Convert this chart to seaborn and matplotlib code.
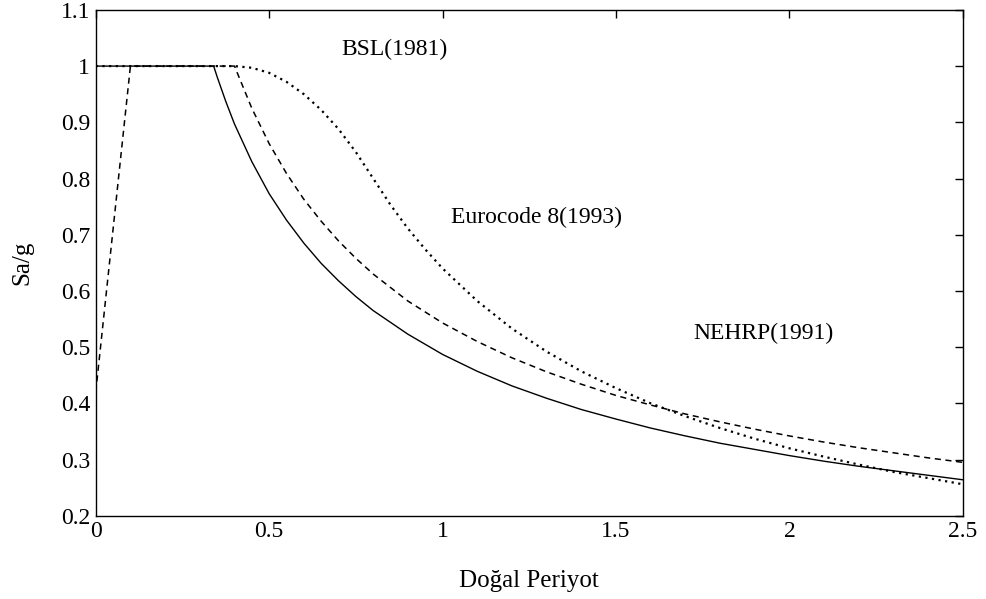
import matplotlib
matplotlib.use("Agg")
import matplotlib.pyplot as plt
import seaborn as sns
import pandas as pd

# ---- data ----
nehrp_T = [0.0, 0.34, 0.35, 0.375, 0.4, 0.45, 0.5, 0.55, 0.6, 0.65, 0.7, 0.75, 0.8, 0.9,
           1.0, 1.1, 1.2, 1.3, 1.4, 1.5, 1.6, 1.7, 1.8, 1.9, 2.0, 2.1, 2.2, 2.3, 2.4, 2.5]
nehrp_S = [1.0, 1.0, 0.981, 0.937, 0.897, 0.830, 0.773, 0.726, 0.685, 0.649, 0.618, 0.590, 0.565, 0.523,
           0.487, 0.457, 0.431, 0.409, 0.389, 0.372, 0.356, 0.342, 0.329, 0.318, 0.307, 0.297, 0.288, 0.280, 0.272, 0.264]

ec8_T = [0.0, 0.1, 0.4, 0.45, 0.5, 0.55, 0.6, 0.65, 0.7, 0.75, 0.8, 0.9,
         1.0, 1.1, 1.2, 1.3, 1.4, 1.5, 1.6, 1.7, 1.8, 1.9, 2.0, 2.1, 2.2, 2.3, 2.4, 2.5]
ec8_S = [0.42, 1.0, 1.0, 0.925, 0.862, 0.809, 0.763, 0.724, 0.689, 0.658, 0.630, 0.582,
         0.543, 0.510, 0.481, 0.456, 0.434, 0.414, 0.397, 0.381, 0.367, 0.354, 0.342, 0.331, 0.321, 0.312, 0.303, 0.295]

bsl_T = [0.0, 0.4, 0.45, 0.5, 0.55, 0.6, 0.65, 0.7, 0.75, 0.8, 0.85, 0.9, 0.95,
         1.0, 1.1, 1.2, 1.3, 1.4, 1.5, 1.6, 1.7, 1.8, 1.9, 2.0, 2.1, 2.2, 2.3, 2.4, 2.5]
bsl_S = [1.0, 1.0, 0.997, 0.988, 0.972, 0.950, 0.922, 0.888, 0.847, 0.800, 0.753, 0.711, 0.674,
         0.640, 0.582, 0.533, 0.492, 0.457, 0.427, 0.400, 0.377, 0.356, 0.337, 0.320, 0.305, 0.291, 0.278, 0.267, 0.256]

labels = ["BSL(1981)", "Eurocode 8(1993)", "NEHRP(1991)"]
label_pos_T = [0.86, 1.27, 1.925]
label_pos_S = [1.03, 0.73, 0.525]

x_ticks = [0, 0.5, 1, 1.5, 2, 2.5]
x_ticklabels = ["0", "0.5", "1", "1.5", "2", "2.5"]
y_ticks = [0.2, 0.3, 0.4, 0.5, 0.6, 0.7, 0.8, 0.9, 1.0, 1.1]
y_ticklabels = ["0.2", "0.3", "0.4", "0.5", "0.6", "0.7", "0.8", "0.9", "1", "1.1"]

sns.set_theme(style="white")
plt.rcParams["font.family"] = ["Liberation Serif", "DejaVu Serif"]

fig = plt.figure(figsize=(9.87, 5.99), dpi=100)
ax = fig.add_axes([0.097, 0.139, 0.8785, 0.8445])

bsl_df = pd.DataFrame({"T": bsl_T, "S": bsl_S})
ec8_df = pd.DataFrame({"T": ec8_T, "S": ec8_S})
nehrp_df = pd.DataFrame({"T": nehrp_T, "S": nehrp_S})

sns.lineplot(data=bsl_df, x="T", y="S", ax=ax, sort=False, color="black",
             linewidth=1.6, linestyle=(0, (1, 2)), estimator=None)
sns.lineplot(data=ec8_df, x="T", y="S", ax=ax, sort=False, color="black",
             linewidth=1.1, linestyle=(0, (4, 3)), estimator=None)
sns.lineplot(data=nehrp_df, x="T", y="S", ax=ax, sort=False, color="black",
             linewidth=1.0, linestyle="-", estimator=None)

for lab, tx, sy in zip(labels, label_pos_T, label_pos_S):
    ax.text(tx, sy, lab, ha="center", va="center", fontsize=17, color="black")

ax.set_xlim(0, 2.5)
ax.set_ylim(0.2, 1.1)
ax.set_xticks(x_ticks)
ax.set_xticklabels(x_ticklabels)
ax.set_yticks(y_ticks)
ax.set_yticklabels(y_ticklabels)
ax.tick_params(direction="in", length=6, width=1, top=True, right=True,
               labelsize=17, colors="black", pad=4)
for s in ax.spines.values():
    s.set_color("black")
    s.set_linewidth(1.0)
ax.set_xlabel("Doğal Periyot", fontsize=18, labelpad=20, color="black")
ax.set_ylabel("Sa/g", fontsize=18, labelpad=20, color="black")

fig.savefig("out.png", dpi=100)
